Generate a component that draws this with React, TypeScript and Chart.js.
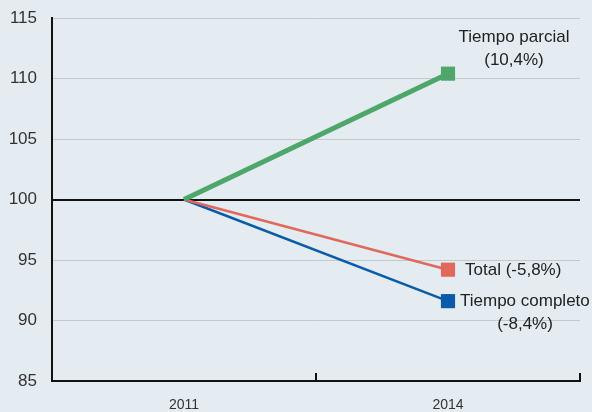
import React, { useEffect, useRef } from "react";
import { Chart, registerables } from "chart.js";

Chart.register(...registerables);

const categories = ["2011", "2014"];
const parcial = [100, 110.4];
const total = [100, 94.2];
const completo = [100, 91.6];
const yTicks = [85, 90, 95, 100, 105, 110, 115];

const FONT = "'Liberation Sans', Arial, sans-serif";

const labelsPlugin = {
  id: "endLabels",
  afterDatasetsDraw(chart: any) {
    const { ctx, scales } = chart;
    const x = scales.x;
    const y = scales.y;
    const px = x.getPixelForValue(1);
    ctx.save();
    ctx.fillStyle = "#222";
    ctx.font = `17px ${FONT}`;
    ctx.textBaseline = "middle";
    const yp = y.getPixelForValue(parcial[1]);
    ctx.textAlign = "center";
    ctx.fillText("Tiempo parcial", px + 66, yp - 36);
    ctx.fillText("(10,4%)", px + 66, yp - 13);
    const yt = y.getPixelForValue(total[1]);
    ctx.textAlign = "left";
    ctx.fillText("Total (-5,8%)", px + 17, yt + 1);
    const yc = y.getPixelForValue(completo[1]);
    ctx.fillText("Tiempo completo", px + 12, yc);
    ctx.textAlign = "center";
    ctx.fillText("(-8,4%)", px + 77, yc + 23);
    ctx.strokeStyle = "#111";
    ctx.lineWidth = 2;
    const mid = (x.getPixelForValue(0) + x.getPixelForValue(1)) / 2;
    const bottom = chart.chartArea.bottom;
    [mid, chart.chartArea.right].forEach((tx: number) => {
      ctx.beginPath();
      ctx.moveTo(tx, bottom);
      ctx.lineTo(tx, bottom - 8);
      ctx.stroke();
    });
    ctx.restore();
  },
};

export default function App() {
  const ref = useRef<HTMLCanvasElement>(null);
  useEffect(() => {
    document.body.style.margin = "0";
    const chart = new Chart(ref.current!, {
      type: "line",
      data: {
        labels: categories,
        datasets: [
          {
            label: "Tiempo parcial",
            data: parcial,
            borderColor: "#4ea66a",
            backgroundColor: "#4ea66a",
            borderWidth: 5,
            pointStyle: "rect",
            pointRadius: [0, 10],
            pointBorderWidth: 0,
          },
          {
            label: "Total",
            data: total,
            borderColor: "#e0695c",
            backgroundColor: "#e0695c",
            borderWidth: 2.5,
            pointStyle: "rect",
            pointRadius: [0, 10],
            pointBorderWidth: 0,
          },
          {
            label: "Tiempo completo",
            data: completo,
            borderColor: "#0a5ca8",
            backgroundColor: "#0a5ca8",
            borderWidth: 2.5,
            pointStyle: "rect",
            pointRadius: [0, 10],
            pointBorderWidth: 0,
          },
        ],
      },
      options: {
        animation: false,
        responsive: false,
        maintainAspectRatio: false,
        layout: { padding: { top: 18, right: 12, left: 0, bottom: 0 } },
        plugins: { legend: { display: false }, tooltip: { enabled: false } },
        scales: {
          x: {
            offset: true,
            grid: { display: false, drawTicks: false },
            border: { color: "#111", width: 2 },
            ticks: { color: "#333", font: { family: FONT, size: 14 }, padding: 16 },
            afterFit: (s: any) => {
              s.height = 31;
              s.paddingLeft = 0;
              s.paddingRight = 0;
            },
          },
          y: {
            min: 85,
            max: 115,
            afterBuildTicks: (s: any) => {
              s.ticks = yTicks.map((v) => ({ value: v }));
            },
            grid: {
              drawTicks: false,
              color: (c: any) => (c.tick && c.tick.value === 100 ? "#111" : c.tick && c.tick.value === 85 ? "rgba(0,0,0,0)" : "#c4c8cb"),
              lineWidth: (c: any) => (c.tick && c.tick.value === 100 ? 2 : 1),
            },
            border: { color: "#111", width: 2 },
            ticks: { color: "#333", font: { family: FONT, size: 17 }, padding: 15 },
            afterFit: (s: any) => {
              s.width = 52;
              s.paddingTop = 0;
              s.paddingBottom = 0;
            },
          },
        },
      },
      plugins: [
        {
          id: "bg",
          beforeDraw(chart: any) {
            const c = chart.ctx;
            c.save();
            c.fillStyle = "#e4ecf1";
            c.fillRect(0, 0, chart.width, chart.height);
            c.restore();
          },
        },
        labelsPlugin,
      ],
    });
    return () => chart.destroy();
  }, []);
  return (
    <div style={{ position: "absolute", left: 0, top: 0, width: 592, height: 412 }}>
      <canvas ref={ref} width={592} height={412} style={{ width: 592, height: 412, display: "block" }} />
    </div>
  );
}
